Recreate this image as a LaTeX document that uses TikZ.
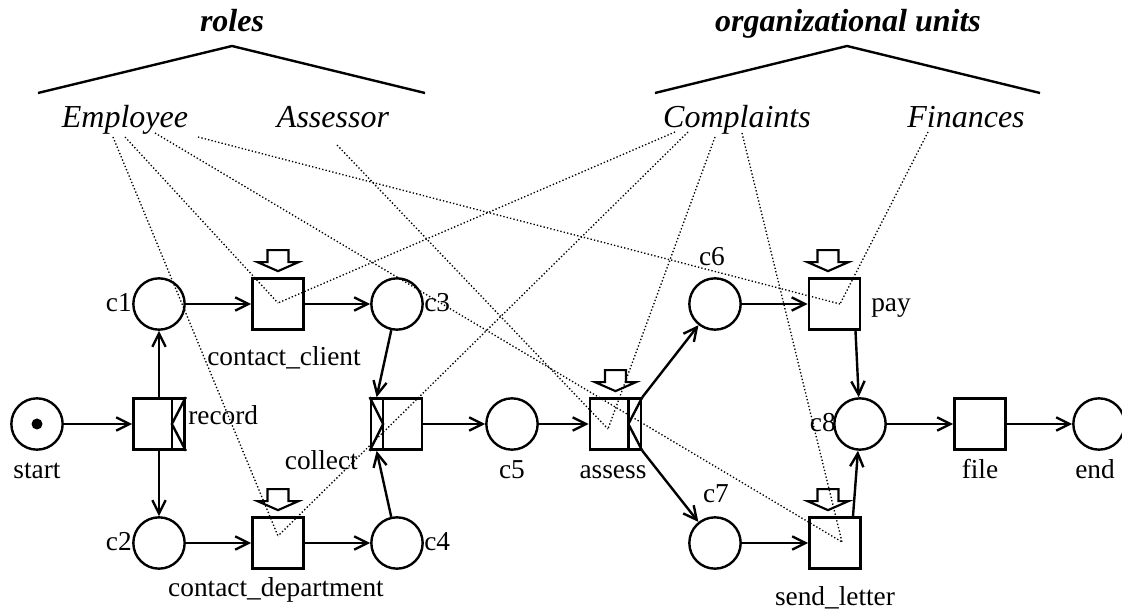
\documentclass[tikz,border=0pt]{standalone}
\usepackage{fontspec}
\setmainfont{Liberation Serif}
\usetikzlibrary{arrows.meta,calc}
\begin{document}
\begin{tikzpicture}[x=0.75pt,y=-0.75pt,
  lab/.style={font=\fontsize{20.5}{24}\selectfont, inner sep=0pt, anchor=base},
  res/.style={font=\fontsize{24}{28}\selectfont\itshape, inner sep=0pt, anchor=base},
  ttl/.style={font=\fontsize{24}{28}\selectfont\bfseries\itshape, inner sep=0pt, anchor=base},
  place/.style={draw, line width=1.8pt, circle, minimum size=38.5pt, inner sep=0pt},
  trans/.style={draw, line width=1.8pt, rectangle, minimum size=38.5pt, inner sep=0pt},
  arc/.style={line width=1.8pt, -{Straight Barb[length=10pt,width=10pt]}},
  trig/.style={draw, line width=1.6pt, fill=white},
  assign/.style={line width=1pt, dash pattern=on 1pt off 1.6pt},
  hier/.style={line width=1.8pt}
]
\path[use as bounding box] (0,0) rectangle (1122,609);

% resource hierarchy
\node[ttl] (roles) at (232,32) {roles};
\node[ttl] (units) at (848,32) {organizational units};
\coordinate (rapex) at (232,46);
\coordinate (rl) at (38,93);
\coordinate (rr) at (425,93);
\coordinate (uapex) at (847,46);
\coordinate (ul) at (655,93);
\coordinate (ur) at (1040,93);
\draw[hier] (rl) -- (rapex) -- (rr);
\draw[hier] (ul) -- (uapex) -- (ur);
\node[res] (emp) at (125,128) {Employee};
\node[res] (ass) at (333,128) {Assessor};
\node[res] (cmp) at (737,128) {Complaints};
\node[res] (fin) at (966,128) {Finances};

% places
\node[place] (start) at (37,424) {};
\fill (start) circle (5.5);
\node[place] (c1) at (159,304) {};
\node[place] (c2) at (159,543) {};
\node[place] (c3) at (397,304) {};
\node[place] (c4) at (397,543) {};
\node[place] (c5) at (512,424) {};
\node[place] (c6) at (715,304) {};
\node[place] (c7) at (715,543) {};
\node[place] (c8) at (860,424) {};
\node[place] (end) at (1099,424) {};

% transitions
\node[trans] (record) at (159,424) {};
\node[trans] (cc) at (278,304) {};
\node[trans] (cd) at (278,543) {};
\node[trans] (collect) at (396.5,424) {};
\node[trans] (assess) at (615.5,424) {};
\node[trans] (pay) at (834.5,304) {};
\node[trans] (sl) at (835,543) {};
\node[trans] (file) at (980,424) {};

% AND-split / AND-join markers
\draw[line width=1.8pt] ($(record.north east)+(-14,0)$) -- ($(record.south east)+(-14,0)$);
\draw[line width=1.8pt] (record.north east) -- ($(record.east)+(-14,0)$) -- (record.south east);
\draw[line width=1.8pt] ($(assess.north east)+(-14,0)$) -- ($(assess.south east)+(-14,0)$);
\draw[line width=1.8pt] (assess.north east) -- ($(assess.east)+(-14,0)$) -- (assess.south east);
\draw[line width=1.8pt] ($(collect.north west)+(13.5,0)$) -- ($(collect.south west)+(13.5,0)$);
\draw[line width=1.8pt] (collect.north west) -- ($(collect.west)+(13.5,0)$) -- (collect.south west);

% triggers
\foreach \t/\dx in {cc/0, cd/0, assess/0, pay/-6.5, sl/-7}{
  \draw[trig] ($(\t.north)+(\dx-10.5,-27)$) -- ($(\t.north)+(\dx+10.5,-27)$)
    -- ($(\t.north)+(\dx+10.5,-15)$) -- ($(\t.north)+(\dx+20.5,-15)$)
    -- ($(\t.north)+(\dx,-6)$) -- ($(\t.north)+(\dx-20.5,-15)$)
    -- ($(\t.north)+(\dx-10.5,-15)$) -- cycle;
}

% arcs
\draw[arc] (start) -- (record);
\draw[arc] (record) -- (c1);
\draw[arc] (record) -- (c2);
\draw[arc] (c1) -- (cc);
\draw[arc] (cc) -- (c3);
\draw[arc] (c2) -- (cd);
\draw[arc] (cd) -- (c4);
\coordinate (colt) at ($(collect.north west)+(7,0)$);
\coordinate (colb) at ($(collect.south west)+(7,0)$);
\draw[arc] (c3) -- (colt);
\draw[arc] (c4) -- (colb);
\draw[arc] (collect) -- (c5);
\draw[arc] (c5) -- (assess);
\draw[arc] (assess.north east) -- (c6);
\draw[arc] (assess.south east) -- (c7);
\draw[arc] (c6) -- (pay);
\draw[arc] (c7) -- (sl);
\draw[arc] ($(pay.south)+(21,0)$) -- (c8);
\draw[arc] ($(sl.north)+(18,0)$) -- (c8);
\draw[arc] (c8) -- (file);
\draw[arc] (file) -- (end);

% labels
\node[lab] (lstart) at (37,479) {start};
\node[lab,anchor=base west] (lrecord) at (188,425) {record};
\node[lab,anchor=base east] (lcollect) at (358,470) {collect};
\node[lab] (lc5) at (512,479) {c5};
\node[lab] (lassess) at (613,479) {assess};
\node[lab] (lfile) at (980,479) {file};
\node[lab] (lend) at (1095,479) {end};
\node[lab,anchor=base east] (lc8) at (836,432) {c8};
\node[lab,anchor=base east] (lc1) at (132,312) {c1};
\node[lab,anchor=base east] (lc2) at (132,551) {c2};
\node[lab,anchor=base west] (lc3) at (424,312) {c3};
\node[lab,anchor=base west] (lc4) at (424,551) {c4};
\node[lab] (lc6) at (712,266) {c6};
\node[lab] (lc7) at (716,503) {c7};
\node[lab,anchor=base west] (lpay) at (871,312) {pay};
\node[lab] (lcc) at (284,366) {contact\_client};
\node[lab] (lcd) at (276,597) {contact\_department};
\node[lab] (lsl) at (835,605) {send\_letter};

% assignment targets
\coordinate (vcc) at (278,303);
\coordinate (vcd) at (278,536);
\coordinate (vas) at (608,429);
\coordinate (vpay) at (840,304);
\coordinate (vsl) at (842,542);
% assignment sources
\coordinate (e1) at (113,137);
\coordinate (e2) at (125,137);
\coordinate (e3) at (155,133);
\coordinate (e4) at (198,137);
\coordinate (a1) at (337,145);
\coordinate (k1) at (675,132);
\coordinate (k2) at (688,132);
\coordinate (k3) at (715,137);
\coordinate (k4) at (742,133);
\coordinate (f1) at (928,132);

\draw[assign] (e1) -- (vcd);
\draw[assign] (e2) -- (vcc);
\draw[assign] (e3) -- (vsl);
\draw[assign] (e4) -- (vpay);
\draw[assign] (a1) -- (vas);
\draw[assign] (k1) -- (vcc);
\draw[assign] (k2) -- (vcd);
\draw[assign] (k3) -- (vas);
\draw[assign] (k4) -- (vsl);
\draw[assign] (f1) -- (vpay);
\end{tikzpicture}
\end{document}
